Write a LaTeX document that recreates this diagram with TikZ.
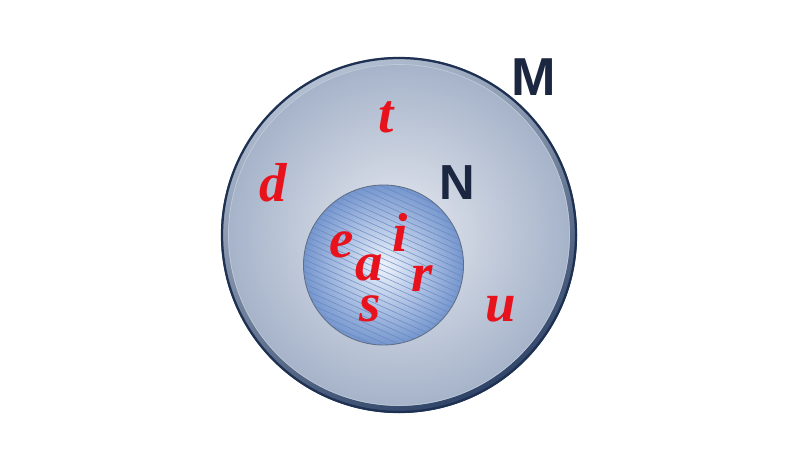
\documentclass[tikz,border=0pt]{standalone}
\usepackage{fontspec}
\usepackage{xcolor}
\usetikzlibrary{positioning}
\newfontfamily\elemfont{Liberation Serif}
\newfontfamily\setnamefont{Liberation Sans}

\definecolor{rimnavy}{HTML}{1E3152}
\definecolor{rimlight}{HTML}{B4C0D2}
\definecolor{rimdark}{HTML}{2F4468}
\definecolor{diskcentre}{HTML}{E6E9F0}
\definecolor{diskedge}{HTML}{A3B1C8}
\definecolor{subcentre}{HTML}{EEF3FB}
\definecolor{subedge}{HTML}{7596CE}
\definecolor{hatchblue}{HTML}{6384BF}
\definecolor{elemred}{HTML}{E8121C}
\definecolor{setnavy}{HTML}{1B2640}

\tikzset{
  element/.style={inner sep=0pt, text=elemred,
    font=\elemfont\bfseries\itshape\fontsize{39}{39}\selectfont},
  setname/.style={inner sep=0pt, text=setnavy,
    font=\setnamefont\bfseries\fontsize{#1}{#1}\selectfont},
}

\begin{document}
\begin{tikzpicture}[x=0.025cm, y=-0.025cm]
  \useasboundingbox (0,0) rectangle (800,458);

  % outer set M
  \coordinate (mc) at (399,235);
  \shade[inner color=diskcentre, outer color=diskedge] (mc) circle (178);
  \shade[even odd rule, top color=rimlight, bottom color=rimdark, shading angle=25]
    (mc) circle (178) (mc) circle (171);
  \draw[rimnavy, line width=1.6pt] (mc) circle (177);
  \draw[white, opacity=0.3, line width=0.5pt] (mc) circle (170.5);

  % inner set N
  \coordinate (nc) at (383.5,265);
  \shade[inner color=subcentre, outer color=subedge] (nc) circle (80);
  \begin{scope}[shift={(nc)}]
    \clip (0,0) circle (80);
    \foreach \o in {-99,-93.5,...,99}
      \draw[hatchblue, line width=0.45pt, opacity=0.75]
        ({-0.41*\o-100},{0.91*\o-45}) -- ({-0.41*\o+100},{0.91*\o+45});
  \end{scope}
  \draw[rimnavy!70, line width=0.6pt] (nc) circle (80);

  % set names
  \node[setname=38] (setM) at (534,77) {M};
  \node[setname=35] (setN) at (457,183) {N};

  % elements of M only
  \node[element] (elt) at (386,117) {t};
  \node[element] (eld) at (273,183) {d};
  \node[element] (elu) at (501,309) {u};

  % elements of N
  \node[element] (ele) at (342,245) {e};
  \node[element] (eli) at (400,232) {i};
  \node[element] (ela) at (369,268) {a};
  \node[element] (elr) at (422,279) {r};
  \node[element] (els) at (370,309) {s};
\end{tikzpicture}
\end{document}
